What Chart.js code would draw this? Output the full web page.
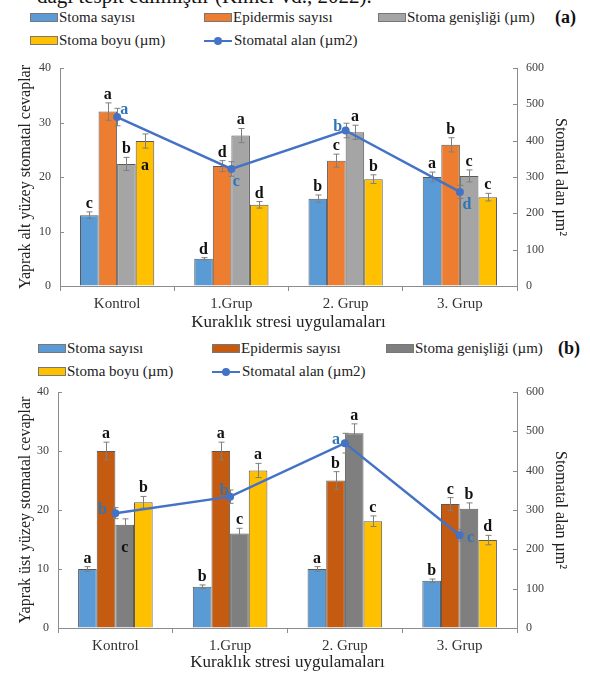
<!doctype html>
<html lang="tr">
<head>
<meta charset="utf-8">
<title>Stomatal cevaplar</title>
<script src="https://cdn.jsdelivr.net/npm/chart.js"></script>
<style>
body{margin:0;background:#fff;font-family:"Liberation Serif","Times New Roman",serif;}
#wrap{position:relative;width:590px;height:675px;overflow:hidden;}
.cut{position:absolute;left:37px;top:-14px;font-size:21px;line-height:21px;color:#111;white-space:nowrap;}
.panel{position:absolute;left:0;width:590px;}
.legend{position:absolute;display:flex;flex-wrap:wrap;width:530px;font-size:15px;color:#222;font-family:"Liberation Serif",serif;}
.item{width:174px;height:23px;display:flex;align-items:center;}
.sw{width:26px;height:7px;border:1px solid #777;margin-right:1px;}
.ln{width:28px;height:2px;position:relative;margin-right:2px;}
.ln i{position:absolute;left:10px;top:-3px;width:8px;height:8px;border-radius:50%;}
.tag{position:absolute;font-weight:bold;font-size:18px;color:#111;}
</style>
</head>
<body>
<div id="wrap">
  <div class="cut">dağı tespit edilmiştir (Kimer vd., 2022).</div>

  <div class="legend" id="legA" style="left:30px;top:6px"></div>
  <div class="tag" style="left:555px;top:7px">(a)</div>
  <div class="panel" style="top:0;height:335px"><canvas id="chartA" width="590" height="335"></canvas></div>

  <div class="legend" id="legB" style="left:38px;top:337px"></div>
  <div class="tag" style="left:558px;top:338px">(b)</div>
  <div class="panel" style="top:335px;height:340px"><canvas id="chartB" width="590" height="340"></canvas></div>
</div>

<script>
const grup = ['Kontrol', '1.Grup', '2. Grup', '3. Grup'];
const seriAdi = ['Stoma sayısı', 'Epidermis sayısı', 'Stoma genişliği (µm)', 'Stoma boyu (µm)', 'Stomatal alan (µm2)'];

// (a) yaprak alt yüzey
const altSayi = [13, 5, 16, 20];
const altEpidermis = [32, 22, 23, 25.9];
const altGenislik = [22.4, 27.6, 28.2, 20.2];
const altBoy = [26.6, 14.9, 19.6, 16.3];
const altAlan = [465, 322, 428, 259];
const altSayiHata = [0.6, 0.2, 0.7, 0.9];
const altEpidermisHata = [1.6, 1.0, 1.2, 1.3];
const altGenislikHata = [1.2, 1.3, 1.3, 1.1];
const altBoyHata = [1.3, 0.6, 0.8, 0.7];
const altAlanHata = [24, 20, 20, 18];
const altSayiHarf = ['c', 'd', 'b', 'a'];
const altEpidermisHarf = ['a', 'd', 'c', 'b'];
const altGenislikHarf = ['b', 'a', 'a', 'c'];
const altBoyHarf = ['a', 'd', 'b', 'c'];
const altAlanHarf = ['a', 'c', 'b', 'd'];

// (b) yaprak üst yüzey
const ustSayi = [10, 7, 10, 8];
const ustEpidermis = [30, 30, 25, 21];
const ustGenislik = [17.5, 16, 33, 20.2];
const ustBoy = [21.3, 26.7, 18.1, 14.9];
const ustAlan = [292, 334, 470, 236];
const ustSayiHata = [0.4, 0.3, 0.4, 0.3];
const ustEpidermisHata = [1.5, 1.5, 1.5, 1.1];
const ustGenislikHata = [1.0, 0.9, 1.6, 1.0];
const ustBoyHata = [1.0, 1.2, 0.9, 0.8];
const ustAlanHata = [14, 17, 25, 15];
const ustSayiHarf = ['a', 'b', 'a', 'b'];
const ustEpidermisHarf = ['a', 'a', 'b', 'c'];
const ustGenislikHarf = ['c', 'c', 'a', 'b'];
const ustBoyHarf = ['b', 'a', 'c', 'd'];
const ustAlanHarf = ['b', 'b', 'a', 'c'];

const serif = '"Liberation Serif", "Times New Roman", serif';
const eksenRenk = '#8c8c8c';
const cizgiRenk = '#4472c4';

// error bars, inside ticks and letters
const ekler = {
  id: 'ekler',
  beforeDatasetDraw(chart, args) {
    const ds = chart.data.datasets[args.index];
    if (ds.type === 'line') hataCiz(chart, ds, args.meta);
  },
  afterDatasetDraw(chart, args) {
    const ds = chart.data.datasets[args.index];
    if (ds.type !== 'line') hataCiz(chart, ds, args.meta);
  },
  afterDatasetsDraw(chart, args, opts) {
    const ctx = chart.ctx;
    const a = chart.chartArea;
    ctx.save();
    ctx.strokeStyle = eksenRenk;
    ctx.lineWidth = 1;
    chart.scales.y.ticks.forEach(t => {
      const y = Math.round(chart.scales.y.getPixelForValue(t.value)) + 0.5;
      ctx.beginPath(); ctx.moveTo(a.left, y); ctx.lineTo(a.left + 4, y); ctx.stroke();
    });
    chart.scales.y1.ticks.forEach(t => {
      const y = Math.round(chart.scales.y1.getPixelForValue(t.value)) + 0.5;
      ctx.beginPath(); ctx.moveTo(a.right - 4, y); ctx.lineTo(a.right, y); ctx.stroke();
    });
    ctx.font = 'bold 16px ' + serif;
    ctx.textAlign = 'center';
    ctx.textBaseline = 'alphabetic';
    chart.data.datasets.forEach((ds, k) => {
      const meta = chart.getDatasetMeta(k);
      const sc = chart.scales[ds.yAxisID];
      meta.data.forEach((el, i) => {
        if (ds.type === 'line') {
          const o = opts.cizgiKayma[i];
          ctx.fillStyle = '#2e75b6';
          ctx.fillText(ds.harf[i], el.x + o[0], el.y + o[1] + 5);
        } else {
          let y = sc.getPixelForValue(ds.data[i] + ds.hata[i]) - 4;
          (opts.icerde || []).forEach(s => { if (s[0] === k && s[1] === i) y += s[2]; });
          ctx.fillStyle = '#111';
          ctx.fillText(ds.harf[i], el.x, y);
        }
      });
    });
    ctx.restore();
  }
};

function hataCiz(chart, ds, meta) {
  const ctx = chart.ctx;
  const sc = chart.scales[ds.yAxisID];
  ctx.save();
  ctx.strokeStyle = '#7f7f7f';
  ctx.lineWidth = 1;
  meta.data.forEach((el, i) => {
    const x = Math.round(el.x) + 0.5;
    const y1 = sc.getPixelForValue(ds.data[i] + ds.hata[i]);
    const y2 = sc.getPixelForValue(ds.data[i] - ds.hata[i]);
    ctx.beginPath();
    ctx.moveTo(x, y1); ctx.lineTo(x, y2);
    ctx.moveTo(x - 3, y1); ctx.lineTo(x + 3, y1);
    ctx.moveTo(x - 3, y2); ctx.lineTo(x + 3, y2);
    ctx.stroke();
  });
  ctx.restore();
}

function cubuk(i, veri, hata, harf, renk) {
  return {
    type: 'bar', label: seriAdi[i], data: veri, hata: hata, harf: harf,
    backgroundColor: renk, borderColor: '#5a5a5a', borderWidth: 1,
    yAxisID: 'y', order: 1,
    categoryPercentage: 0.65, barPercentage: 1.0
  };
}

function grafik(id, legId, d) {
  const chart = new Chart(document.getElementById(id), {
    data: {
      labels: grup,
      datasets: [
        cubuk(0, d.sayi, d.sayiHata, d.sayiHarf, d.renk[0]),
        cubuk(1, d.epi, d.epiHata, d.epiHarf, d.renk[1]),
        cubuk(2, d.gen, d.genHata, d.genHarf, d.renk[2]),
        cubuk(3, d.boy, d.boyHata, d.boyHarf, d.renk[3]),
        {
          type: 'line', label: seriAdi[4], data: d.alan, hata: d.alanHata, harf: d.alanHarf,
          borderColor: cizgiRenk, backgroundColor: cizgiRenk, borderWidth: 2.5,
          pointRadius: 4, pointBackgroundColor: cizgiRenk, pointBorderWidth: 0,
          tension: 0, yAxisID: 'y1', order: 0
        }
      ]
    },
    options: {
      responsive: false,
      animation: false,
      layout: { padding: { left: 14, right: 18, top: d.ust, bottom: 0 } },
      plugins: {
        legend: { display: false },
        tooltip: { enabled: false },
        ekler: { cizgiKayma: d.kayma, icerde: d.icerde }
      },
      scales: {
        x: {
          grid: { drawOnChartArea: false, tickLength: 5, color: eksenRenk },
          border: { color: eksenRenk },
          ticks: { font: { family: serif, size: 15 }, color: '#333', padding: 4 },
          title: { display: true, text: 'Kuraklık stresi uygulamaları', font: { family: serif, size: 17 }, color: '#222', padding: { top: 2, bottom: 2 } },
          afterFit(s) { s.height = d.xYukseklik; }
        },
        y: {
          position: 'left', min: 0, max: 40,
          grid: { drawOnChartArea: false, drawTicks: false, color: eksenRenk },
          border: { color: eksenRenk },
          ticks: { stepSize: 10, font: { family: serif, size: 12 }, color: '#404040', padding: 9 },
          title: { display: true, text: d.solBaslik, font: { family: serif, size: 16 }, color: '#222', padding: { top: 2, bottom: 2 } },
          afterFit(s) { s.width = d.solGenislik; }
        },
        y1: {
          position: 'right', min: 0, max: 600,
          grid: { drawOnChartArea: false, drawTicks: false, color: eksenRenk },
          border: { color: eksenRenk },
          ticks: { stepSize: 100, font: { family: serif, size: 12 }, color: '#404040', padding: 9 },
          title: { display: true, text: 'Stomatal alan µm²', font: { family: serif, size: 16 }, color: '#222', padding: { top: 2, bottom: 2 } },
          afterFit(s) { s.width = 55; }
        }
      }
    },
    plugins: [ekler]
  });

  // legend from the chart's datasets
  const leg = document.getElementById(legId);
  chart.data.datasets.forEach(ds => {
    const it = document.createElement('div');
    it.className = 'item';
    if (ds.type === 'line') {
      it.innerHTML = '<span class="ln" style="background:' + ds.borderColor + '"><i style="background:' + ds.borderColor + '"></i></span>' + ds.label;
    } else {
      it.innerHTML = '<span class="sw" style="background:' + ds.backgroundColor + '"></span>' + ds.label;
    }
    leg.appendChild(it);
  });
  return chart;
}

grafik('chartA', 'legA', {
  sayi: altSayi, epi: altEpidermis, gen: altGenislik, boy: altBoy, alan: altAlan,
  sayiHata: altSayiHata, epiHata: altEpidermisHata, genHata: altGenislikHata, boyHata: altBoyHata, alanHata: altAlanHata,
  sayiHarf: altSayiHarf, epiHarf: altEpidermisHarf, genHarf: altGenislikHarf, boyHarf: altBoyHarf, alanHarf: altAlanHarf,
  renk: ['#5b9bd5', '#ed7d31', '#a5a5a5', '#ffc000'],
  solBaslik: 'Yaprak alt yüzey stomatal cevaplar',
  ust: 68, xYukseklik: 49, solGenislik: 46,
  kayma: [[7, -8], [5, 12], [-8, -4], [7, 12]],
  icerde: [[3, 0, 40]]
});

grafik('chartB', 'legB', {
  sayi: ustSayi, epi: ustEpidermis, gen: ustGenislik, boy: ustBoy, alan: ustAlan,
  sayiHata: ustSayiHata, epiHata: ustEpidermisHata, genHata: ustGenislikHata, boyHata: ustBoyHata, alanHata: ustAlanHata,
  sayiHarf: ustSayiHarf, epiHarf: ustEpidermisHarf, genHarf: ustGenislikHarf, boyHarf: ustBoyHarf, alanHarf: ustAlanHarf,
  renk: ['#5b9bd5', '#c55a11', '#7f7f7f', '#ffc000'],
  solBaslik: 'Yaprak üst yüzey stomatal cevaplar',
  ust: 57, xYukseklik: 47, solGenislik: 44,
  kayma: [[-13, -4], [-6, -7], [-9, -4], [11, 2]],
  icerde: [[2, 0, 37]]
});
</script>
</body>
</html>
